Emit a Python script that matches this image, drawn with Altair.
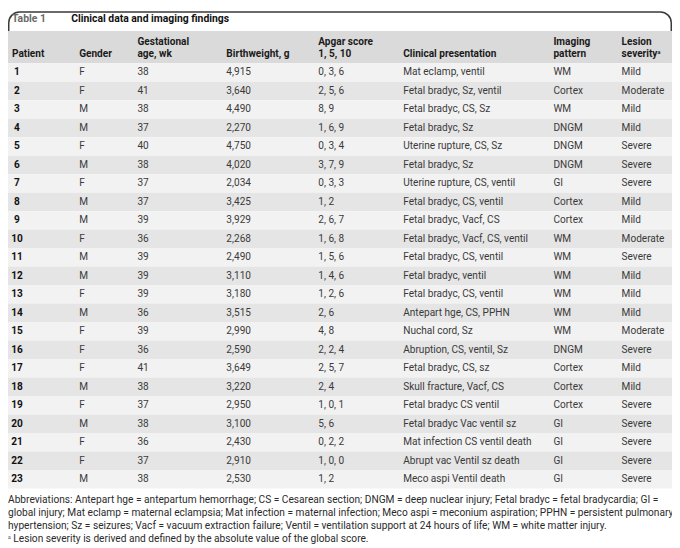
import altair as alt
import pandas as pd

# ---------------- data ----------------
patients = list(range(1, 24))
genders = ["F", "F", "M", "M", "F", "M", "F", "M", "M", "F", "M", "M",
           "F", "M", "F", "F", "F", "M", "F", "M", "F", "F", "M"]
gest_age = [38, 41, 38, 37, 40, 38, 37, 37, 39, 36, 39, 39,
            39, 36, 39, 36, 41, 38, 37, 38, 36, 37, 38]
birthweight = ["4,915", "3,640", "4,490", "2,270", "4,750", "4,020", "2,034",
               "3,425", "3,929", "2,268", "2,490", "3,110", "3,180", "3,515",
               "2,990", "2,590", "3,649", "3,220", "2,950", "3,100", "2,430",
               "2,910", "2,530"]
apgar = ["0, 3, 6", "2, 5, 6", "8, 9", "1, 6, 9", "0, 3, 4", "3, 7, 9",
         "0, 3, 3", "1, 2", "2, 6, 7", "1, 6, 8", "1, 5, 6", "1, 4, 6",
         "1, 2, 6", "2, 6", "4, 8", "2, 2, 4", "2, 5, 7", "2, 4", "1, 0, 1",
         "5, 6", "0, 2, 2", "1, 0, 0", "1, 2"]
clinical = ["Mat eclamp, ventil", "Fetal bradyc, Sz, ventil",
            "Fetal bradyc, CS, Sz", "Fetal bradyc, Sz",
            "Uterine rupture, CS, Sz", "Fetal bradyc, Sz",
            "Uterine rupture, CS, ventil", "Fetal bradyc, CS, ventil",
            "Fetal bradyc, Vacf, CS", "Fetal bradyc, Vacf, CS, ventil",
            "Fetal bradyc, CS, ventil", "Fetal bradyc, ventil",
            "Fetal bradyc, CS, ventil", "Antepart hge, CS, PPHN",
            "Nuchal cord, Sz", "Abruption, CS, ventil, Sz",
            "Fetal bradyc, CS, sz", "Skull fracture, Vacf, CS",
            "Fetal bradyc CS ventil", "Fetal bradyc Vac ventil sz",
            "Mat infection CS ventil death", "Abrupt vac Ventil sz death",
            "Meco aspi Ventil death"]
imaging = ["WM", "Cortex", "WM", "DNGM", "DNGM", "DNGM", "GI", "Cortex",
           "Cortex", "WM", "WM", "WM", "WM", "WM", "WM", "DNGM", "Cortex",
           "Cortex", "Cortex", "GI", "GI", "GI", "GI"]
severity = ["Mild", "Moderate", "Mild", "Mild", "Severe", "Severe", "Severe",
            "Mild", "Mild", "Moderate", "Severe", "Mild", "Mild", "Mild",
            "Moderate", "Severe", "Mild", "Mild", "Severe", "Severe",
            "Severe", "Severe", "Severe"]

table_label = "Table 1"
table_title = "Clinical data and imaging findings"
headers = ["Patient", "Gender", "Gestational\nage, wk", "Birthweight, g",
           "Apgar score\n1, 5, 10", "Clinical presentation",
           "Imaging\npattern", "Lesion\nseverity\u1d43"]
footnotes = [
    "Abbreviations: Antepart hge = antepartum hemorrhage; CS = Cesarean section; DNGM = deep nuclear injury; Fetal bradyc = fetal bradycardia; GI =",
    "global injury; Mat eclamp = maternal eclampsia; Mat infection = maternal infection; Meco aspi = meconium aspiration; PPHN = persistent pulmonary",
    "hypertension; Sz = seizures; Vacf = vacuum extraction failure; Ventil = ventilation support at 24 hours of life; WM = white matter injury.",
    "\u1d43 Lesion severity is derived and defined by the absolute value of the global score.",
]

# ---------------- layout / style ----------------
W, H = 672, 540
FONT = "Roboto"
FS = 10.2
ROW_TOP, ROW_BOTTOM = 52.65, 482.98
HEAD_TOP = 20
COL_X = [9, 72, 131, 221, 314, 400, 552, 621]

df = pd.DataFrame({
    "pid": [str(p) for p in patients],
    "row": patients,
    "gender": genders,
    "ga": [str(g) for g in gest_age],
    "bw": birthweight,
    "apgar": apgar,
    "clinical": clinical,
    "imaging": imaging,
    "severity": severity,
    "parity": ["odd" if p % 2 else "even" for p in patients],
})

yscale = alt.Scale(domain=[0.5, 23.5], range=[ROW_TOP, ROW_BOTTOM],
                   zero=False, nice=False)
one = pd.DataFrame({"k": [0]})

tab = alt.Chart(one).mark_rect(
    fill="white", stroke="#3a3a3a", strokeWidth=1.5, cornerRadius=11
).encode(x=alt.value(0.75), x2=alt.value(W - 0.75),
         y=alt.value(0.75), y2=alt.value(34))

head_bg = alt.Chart(one).mark_rect(fill="#dadada").encode(
    x=alt.value(0), x2=alt.value(W), y=alt.value(HEAD_TOP), y2=alt.value(ROW_TOP))

bands = alt.Chart(df).transform_calculate(
    lo="datum.row - 0.5", hi="datum.row + 0.5"
).mark_rect().encode(
    x=alt.value(0), x2=alt.value(W),
    y=alt.Y("lo:Q", scale=yscale, axis=None), y2="hi:Q",
    color=alt.Color("parity:N", legend=None,
                    scale=alt.Scale(domain=["odd", "even"],
                                    range=["#f2f2f2", "#e5e5e5"])),
)

layers = [tab, head_bg, bands]

layers.append(alt.Chart(one).mark_text(
    align="left", baseline="middle", font=FONT, fontSize=10.5,
    fontWeight="bold", color="#6a6a6a"
).encode(x=alt.value(4), y=alt.value(7.5), text=alt.value(table_label)))
layers.append(alt.Chart(one).mark_text(
    align="left", baseline="middle", font=FONT, fontSize=10.5,
    fontWeight="bold", color="#111111"
).encode(x=alt.value(64), y=alt.value(7.5), text=alt.value(table_title)))

for i, h in enumerate(headers):
    n = h.count("\n") + 1
    layers.append(alt.Chart(one).mark_text(
        align="left", baseline="middle", font=FONT, fontSize=FS,
        fontWeight="bold", color="#1a1a1a", lineBreak="\n", lineHeight=12
    ).encode(x=alt.value(COL_X[i] - (5 if i == 0 else 0)),
             y=alt.value(43 - 12 * (n - 1)), text=alt.value(h)))

fields = ["pid", "gender", "ga", "bw", "apgar", "clinical", "imaging", "severity"]
for i, f in enumerate(fields):
    layers.append(alt.Chart(df).mark_text(
        align="center" if i == 0 else "left", baseline="middle", font=FONT,
        fontSize=FS, fontWeight="bold" if i == 0 else "normal",
        color="#111111" if i == 0 else "#3a3a3a"
    ).encode(x=alt.value(COL_X[i]),
             y=alt.Y("row:Q", scale=yscale, axis=None),
             text=f"{f}:N"))

fn = pd.DataFrame({"line": list(range(len(footnotes))), "txt": footnotes})
fn_scale = alt.Scale(domain=[0, 3], range=[495, 534], zero=False, nice=False)
layers.append(alt.Chart(fn).mark_text(
    align="left", baseline="middle", font=FONT, fontSize=10.3, color="#2a2a2a"
).encode(x=alt.value(0), y=alt.Y("line:Q", scale=fn_scale, axis=None),
         text="txt:N"))

chart = alt.layer(*layers).resolve_scale(y="independent").properties(
    width=W, height=H, padding=0,
    autosize=alt.AutoSizeParams(type="none"),
).configure_view(stroke=None)

chart.save("out.html", embed_options={"renderer": "svg", "actions": False})
